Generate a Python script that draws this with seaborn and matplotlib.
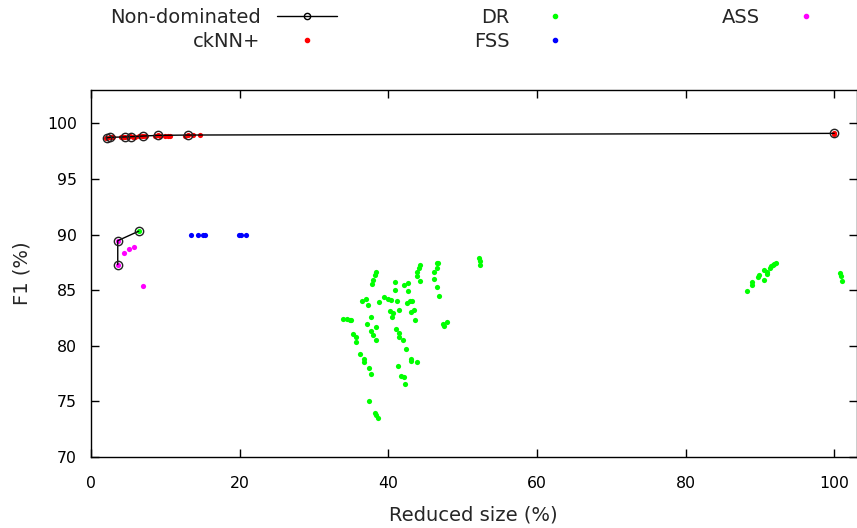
import pandas as pd
import numpy as np
import seaborn as sns
import matplotlib.pyplot as plt
from matplotlib.lines import Line2D

# non-dominated fronts
nd_x = [2.2, 2.6, 4.6, 5.4, 7.0, 9.0, 13.0, 100.0, 3.6, 3.6, 6.4]
nd_y = [98.7, 98.75, 98.78, 98.8, 98.86, 98.92, 98.95, 99.1, 87.3, 89.45, 90.3]
nd_front = ['a'] * 8 + ['b'] * 3

cknn_x = [2.0, 2.2, 2.5, 2.8, 3.0, 4.0, 4.3, 4.6, 5.0, 5.3, 5.6, 5.9, 6.5, 6.8,
          7.0, 7.4, 8.6, 9.0, 9.3, 10.0, 10.3, 10.6, 12.6, 13.0, 13.7, 14.7,
          100.0, 100.0]
cknn_y = [98.65, 98.7, 98.75, 98.8, 98.78, 98.8, 98.75, 98.78, 98.8, 98.82,
          98.75, 98.8, 98.85, 98.9, 98.86, 98.9, 98.88, 98.95, 98.85, 98.9,
          98.85, 98.9, 98.9, 98.95, 98.95, 98.95, 99.1, 99.0]

dr_x = [6.4,
        33.9, 34.4, 34.8, 35.0, 35.2, 35.6, 35.6, 36.2, 36.7, 36.7, 37.4, 37.7,
        37.4, 38.2, 38.4, 38.6, 36.4, 37.0, 37.3, 37.7, 37.2, 37.7, 37.9, 38.3,
        38.4, 37.8, 38.0, 38.2, 38.4, 38.8, 39.4, 40.0, 40.4, 40.9, 40.9, 41.2,
        40.2, 40.6, 40.55, 41.4, 41.0, 41.4, 41.4, 42.0, 42.4, 41.3, 41.75,
        42.1, 42.3, 42.1, 42.6, 42.7, 42.5, 42.9, 43.2, 43.0, 43.5, 43.6, 43.0,
        43.1, 43.8, 43.8, 43.9, 44.1, 44.3, 44.3, 46.2, 46.5, 46.6, 46.7, 46.2,
        46.5, 46.8, 47.35, 47.5, 47.9, 52.2, 52.3, 52.3,
        88.3, 88.9, 89.0, 89.7, 89.9, 90.5, 90.5, 90.9, 91.0, 91.3, 91.5, 91.7,
        91.9, 92.2, 100.8, 100.9, 101.0]
dr_y = [90.3,
        82.4, 82.4, 82.3, 82.3, 81.1, 80.8, 80.3, 79.3, 78.8, 78.5, 78.0, 77.45,
        75.05, 74.0, 73.8, 73.5, 84.05, 84.2, 83.7, 82.55, 81.95, 81.3, 81.0,
        81.7, 80.5, 85.55, 85.95, 86.4, 86.6, 83.9, 84.35, 84.2, 84.1, 85.75,
        85.05, 84.05, 83.15, 82.95, 82.55, 83.25, 81.5, 81.15, 80.8, 80.55,
        79.75, 78.2, 77.3, 77.15, 76.6, 85.5, 85.65, 84.95, 83.85, 84.05, 84.05,
        83.0, 83.25, 82.35, 78.8, 78.6, 78.5, 86.25, 86.65, 87.0, 87.25, 85.85,
        86.65, 87.0, 87.45, 87.45, 86.0, 85.25, 84.45, 82.0, 81.75, 82.1, 87.9,
        87.6, 87.3,
        84.9, 85.5, 85.7, 86.15, 86.4, 85.95, 86.85, 86.6, 86.45, 87.0, 87.15,
        87.25, 87.35, 87.4, 86.55, 86.25, 85.85]

fss_x = [13.4, 14.4, 15.1, 15.4, 19.9, 20.25, 20.9]
fss_y = [90.0, 90.0, 90.0, 90.0, 90.0, 90.0, 90.0]

ass_x = [3.6, 3.6, 4.5, 5.15, 5.8, 6.95]
ass_y = [87.3, 89.45, 88.3, 88.7, 88.85, 85.4]

sns.set_style('ticks')
plt.rcParams['font.family'] = ['DejaVu Sans']

fig = plt.figure(figsize=(8.57, 5.28), dpi=100)
ax = fig.add_axes([91 / 857, 1 - 457 / 528, (856.5 - 91) / 857, (457 - 90) / 528])

nd = pd.DataFrame({'x': nd_x, 'y': nd_y, 'front': nd_front})
sns.lineplot(data=nd, x='x', y='y', units='front', estimator=None, sort=False,
             color='black', lw=1, marker='o', markersize=6,
             markerfacecolor='none', markeredgecolor='#222222',
             markeredgewidth=1, ax=ax, legend=False)

dot = dict(s=14, linewidth=0, legend=False, ax=ax)
sns.scatterplot(x=cknn_x, y=cknn_y, color='#ff0000', **dot)
sns.scatterplot(x=dr_x, y=dr_y, color='#00ff00', **dot)
sns.scatterplot(x=fss_x, y=fss_y, color='#0000ff', **dot)
sns.scatterplot(x=ass_x, y=ass_y, color='#ff00ff', **dot)

ax.set_xlim(0, 103)
ax.set_ylim(70, 103)
ax.set_xticks([0, 20, 40, 60, 80, 100])
ax.set_yticks([70, 75, 80, 85, 90, 95, 100])
ax.tick_params(direction='in', length=6, width=1, top=True, right=True,
               labelsize=11.3, colors='black')
ax.tick_params(axis='x', pad=14)
ax.tick_params(axis='y', pad=10)
for sp in ax.spines.values():
    sp.set_visible(True)
    sp.set_linewidth(1)
    sp.set_color('black')
ax.set_xlabel('Reduced size (%)', fontsize=14, labelpad=10)
ax.set_ylabel('F1 (%)', fontsize=14, labelpad=11.5)

handles = [
    Line2D([], [], color='black', lw=1, marker='o', ms=4.5, mfc='none', mec='black'),
    Line2D([], [], ls='none', marker='o', ms=3, color='#ff0000'),
    Line2D([], [], ls='none', marker='o', ms=3, color='#00ff00'),
    Line2D([], [], ls='none', marker='o', ms=3, color='#0000ff'),
    Line2D([], [], ls='none', marker='o', ms=3, color='#ff00ff'),
]
labels = ['Non-dominated', 'ckNN+', 'DR', 'FSS', 'ASS']
fig.legend(handles, labels, ncol=3, loc='upper left',
           bbox_to_anchor=(110 / 857, 0.985), frameon=False, fontsize=14,
           markerfirst=False, handlelength=3.08, handletextpad=0.82,
           columnspacing=7.05, labelspacing=0.25, borderpad=0, borderaxespad=0)

fig.savefig('out.png', dpi=100)
